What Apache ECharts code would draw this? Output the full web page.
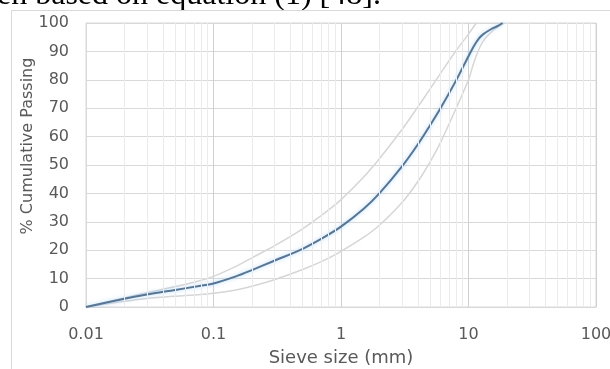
<!DOCTYPE html>
<html>
<head>
<meta charset="utf-8">
<script src="https://cdn.jsdelivr.net/npm/echarts@6/dist/echarts.min.js"></script>
<style>
  html,body{margin:0;padding:0;background:#fff;}
  #chart{width:610px;height:369px;}
</style>
</head>
<body>
<div id="chart"></div>
<script>
/* 粒径 (mm) 与累计通过率 (%) */
var mainSizes = [0.01, 0.02, 0.03, 0.05, 0.075, 0.1, 0.15, 0.2, 0.3, 0.5, 0.75, 1, 1.5, 2, 3, 4, 5, 6, 8, 10, 11, 12, 13, 15, 17, 18.5]
var mainPass  = [0, 2.9, 4.4, 6.0, 7.3, 8.3, 10.8, 13.0, 16.3, 20.5, 24.8, 28.3, 34.5, 40.0, 49.4, 57.2, 64.0, 69.8, 79.8, 88.3, 91.8, 94.4, 96.0, 97.8, 99.0, 100]

var upperSizes = [0.01, 0.02, 0.03, 0.05, 0.075, 0.1, 0.15, 0.2, 0.3, 0.5, 0.75, 1, 1.5, 2, 3, 4, 5, 6, 8, 10, 11.5]
var upperPass  = [0, 3.2, 5.0, 7.2, 9.1, 10.8, 14.3, 17.3, 21.5, 27.5, 33.2, 37.8, 45.7, 52.2, 62.4, 70.4, 76.8, 82.1, 90.3, 96.1, 100]

var lowerSizes = [0.01, 0.02, 0.03, 0.05, 0.075, 0.1, 0.15, 0.2, 0.3, 0.5, 0.75, 1, 1.5, 2, 3, 4, 5, 6, 8, 10, 11, 12, 13, 14, 16, 19]
var lowerPass  = [0, 2.0, 3.0, 3.8, 4.3, 4.8, 6.0, 7.3, 9.6, 13.2, 16.6, 19.6, 24.5, 28.8, 36.7, 44.1, 51.1, 57.7, 70.0, 80.0, 86.0, 90.5, 93.5, 95.3, 97.8, 100]

var xTicks = [0.01, 0.1, 1, 10, 100]
var yTicks = [0, 10, 20, 30, 40, 50, 60, 70, 80, 90, 100]

function pairs(xs, ys){
  var out = []
  for (var i = 0; i < xs.length; i++) out.push([xs[i], ys[i]])
  return out
}

/* 次刻度线 2..9 */
var minorLines = []
for (var d = 0; d < xTicks.length - 1; d++) {
  for (var k = 2; k <= 9; k++) minorLines.push({xAxis: xTicks[d] * k})
}

var labelFont = 'DejaVu Sans'
var txtColor = '#595959'

var myChart = echarts.init(document.getElementById('chart'))

var option = {
  backgroundColor: '#fff',
  animation: false,
  graphic: [
    {
      type: 'text', silent: true,
      style: {
        text: 'en based on equation (1) [48].',
        x: -3, y: -20,
        font: '32px "Liberation Serif"',
        fill: '#000',
        textVerticalAlign: 'top'
      }
    },
    {
      type: 'rect', silent: true,
      shape: {x: 11.5, y: 10.5, width: 700, height: 500},
      style: {fill: 'none', stroke: '#d9d9d9', lineWidth: 1}
    }
  ],
  grid: {
    left: 86, right: 14, top: 23, bottom: 62,
    outerBoundsMode: 'none',
    show: true, borderColor: '#d9d9d9', borderWidth: 1
  },
  xAxis: {
    type: 'log',
    logBase: 10,
    min: xTicks[0],
    max: xTicks[xTicks.length - 1],
    name: 'Sieve size (mm)',
    nameLocation: 'middle',
    nameGap: 42,
    nameTextStyle: {fontFamily: labelFont, fontSize: 18, color: txtColor},
    axisLine: {lineStyle: {color: '#d9d9d9'}},
    axisTick: {show: false},
    axisLabel: {
      fontFamily: labelFont, fontSize: 16, color: txtColor, margin: 20,
      formatter: function (v) { return String(v) }
    },
    splitLine: {show: true, lineStyle: {color: '#d0d0d0', width: 1}}
  },
  yAxis: {
    type: 'value',
    min: yTicks[0],
    max: yTicks[yTicks.length - 1],
    interval: 10,
    name: '% Cumulative Passing',
    nameLocation: 'middle',
    nameGap: 50,
    nameMoveOverlap: false,
    nameTextStyle: {fontFamily: labelFont, fontSize: 16, color: txtColor, padding: [0, 0, 0, 38]},
    axisLine: {show: true, lineStyle: {color: '#d9d9d9'}},
    axisTick: {show: false},
    axisLabel: {fontFamily: labelFont, fontSize: 16, color: txtColor, margin: 17},
    splitLine: {show: true, lineStyle: {color: '#d9d9d9', width: 1}}
  },
  series: [
    {
      name: 'upper',
      type: 'line',
      smooth: 0.3,
      showSymbol: false,
      lineStyle: {color: '#d6d6d6', width: 1.5},
      data: pairs(upperSizes, upperPass),
      markLine: {
        silent: true,
        symbol: 'none',
        label: {show: false},
        lineStyle: {color: '#ebebeb', width: 1, type: 'solid'},
        data: minorLines
      }
    },
    {
      name: 'lower',
      type: 'line',
      smooth: 0.3,
      showSymbol: false,
      lineStyle: {color: '#d6d6d6', width: 1.5},
      data: pairs(lowerSizes, lowerPass)
    },
    {
      name: 'mean',
      type: 'line',
      smooth: 0.3,
      showSymbol: false,
      lineStyle: {
        color: '#4e78a0', width: 2,
        shadowColor: 'rgba(160,200,235,0.7)', shadowBlur: 4
      },
      data: pairs(mainSizes, mainPass)
    }
  ]
}

myChart.setOption(option)
</script>
</body>
</html>
